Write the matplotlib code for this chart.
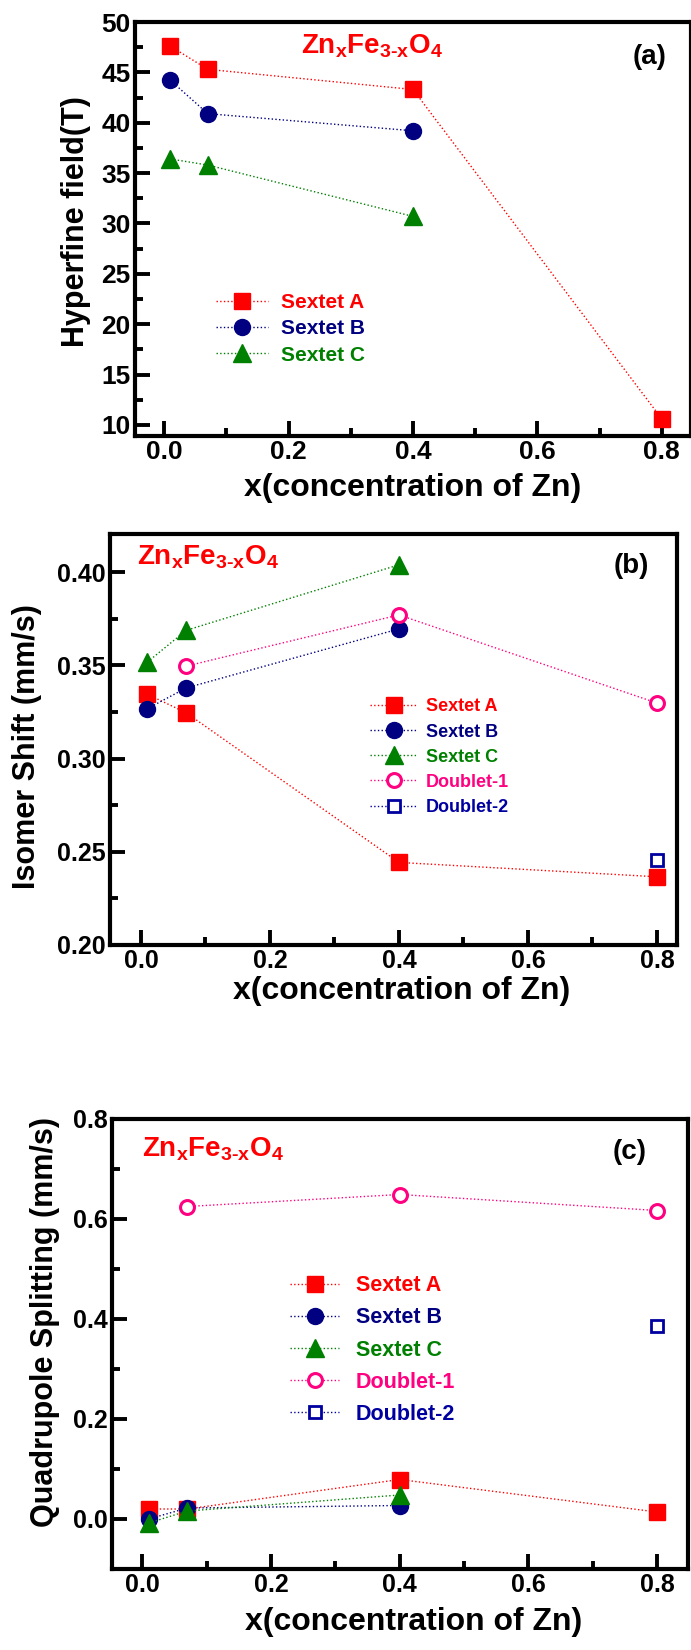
import matplotlib.pyplot as plt
from matplotlib.ticker import MultipleLocator

plt.rcParams['font.family'] = ['Liberation Sans', 'DejaVu Sans']
plt.rcParams['font.weight'] = 'bold'
plt.rcParams['mathtext.fontset'] = 'custom'
plt.rcParams['mathtext.rm'] = 'Liberation Sans:bold'
plt.rcParams['mathtext.bf'] = 'Liberation Sans:bold'
plt.rcParams['mathtext.it'] = 'Liberation Sans:bold'

# Zn content of the samples
x_all = [0.01, 0.07, 0.4, 0.8]
x_sext = [0.01, 0.07, 0.4]
x_d1 = [0.07, 0.4, 0.8]
x_d2 = [0.8]

# (a) hyperfine field, T
hf_a = [47.6, 45.3, 43.3, 10.6]
hf_b = [44.2, 40.9, 39.2]
hf_c = [36.4, 35.8, 30.7]

# (b) isomer shift, mm/s
is_a = [0.3345, 0.3246, 0.2443, 0.2366]
is_b = [0.3268, 0.3379, 0.3696]
is_c = [0.3518, 0.3688, 0.4040]
is_d1 = [0.3496, 0.3771, 0.3298]
is_d2 = [0.2455]

# (c) quadrupole splitting, mm/s
qs_a = [0.020, 0.020, 0.079, 0.014]
qs_b = [0.000, 0.022, 0.027]
qs_c = [-0.008, 0.016, 0.048]
qs_d1 = [0.625, 0.649, 0.617]
qs_d2 = [0.386]

RED = '#ff0000'
NAVY = '#000080'
GREEN = '#008000'
PINK = '#ff0080'
BLUE2 = '#0000a0'

styles = {
    'Sextet A': dict(color=RED, marker='s', ms=11, mfc=RED, mec=RED),
    'Sextet B': dict(color=NAVY, marker='o', ms=11.5, mfc=NAVY, mec=NAVY),
    'Sextet C': dict(color=GREEN, marker='^', ms=12.5, mfc=GREEN, mec=GREEN),
    'Doublet-1': dict(color=PINK, marker='o', ms=10, mfc='white', mec=PINK, mew=2.2),
    'Doublet-2': dict(color=BLUE2, marker='s', ms=8.5, mfc='white', mec=BLUE2, mew=2.0),
}

formula = r'$\mathbf{Zn_{x}Fe_{3\text{-}x}O_{4}}$'

fig = plt.figure(figsize=(6.91, 16.5), dpi=100)


def setup(ax, xlim, ylim, ymaj, ymin, ylabel, ylab_xy, xlab_xy, tsize):
    ax.set_xlim(*xlim)
    ax.set_ylim(*ylim)
    ax.xaxis.set_major_locator(MultipleLocator(0.2))
    ax.xaxis.set_minor_locator(MultipleLocator(0.1))
    ax.yaxis.set_major_locator(MultipleLocator(ymaj))
    ax.yaxis.set_minor_locator(MultipleLocator(ymin))
    for s in ax.spines.values():
        s.set_linewidth(3.0)
    ax.tick_params(which='major', direction='in', length=10.5, width=2.8,
                   labelsize=tsize, pad=3)
    ax.tick_params(which='minor', direction='in', length=5.5, width=2.8)
    ax.tick_params(top=False, right=False, which='both')
    for lab in ax.get_xticklabels() + ax.get_yticklabels():
        lab.set_fontweight('bold')
    ax.set_ylabel(ylabel, fontsize=22, fontweight='bold', va='center')
    ax.set_xlabel('x(concentration of Zn)', fontsize=23, fontweight='bold', va='center')
    ax.yaxis.set_label_coords(*ylab_xy)
    ax.xaxis.set_label_coords(*xlab_xy)


def series(ax, x, y, name):
    st = dict(styles[name])
    ax.plot(x, y, ls=':', lw=1.0, label=name, **st)


# (a)
ax1 = fig.add_axes([135 / 691, 1 - 436 / 1650, 556 / 691, 414 / 1650])
series(ax1, x_all, hf_a, 'Sextet A')
series(ax1, x_sext, hf_b, 'Sextet B')
series(ax1, x_sext, hf_c, 'Sextet C')
setup(ax1, (-0.047, 0.847), (8.9, 50), 5, 2.5, 'Hyperfine field(T)',
      (-0.106, 0.517), (0.50, -0.126), 19)
ax1.text(0.299, 0.923, formula, transform=ax1.transAxes, color=RED,
         fontsize=20, va='baseline', ha='left')
ax1.text(0.926, 0.915, '(a)', transform=ax1.transAxes, fontsize=20,
         fontweight='bold', ha='center', va='center')
ax1.legend(loc='upper left', bbox_to_anchor=(0.146, 0.345), frameon=False,
           handlelength=2.5, handletextpad=0.6, labelspacing=0.35,
           borderpad=0, borderaxespad=0, labelcolor='linecolor',
           prop=dict(weight='bold', size=15))

# (b)
ax2 = fig.add_axes([110 / 691, 1 - 945 / 1650, 567 / 691, 411 / 1650])
series(ax2, x_all, is_a, 'Sextet A')
series(ax2, x_sext, is_b, 'Sextet B')
series(ax2, x_sext, is_c, 'Sextet C')
series(ax2, x_d1, is_d1, 'Doublet-1')
series(ax2, x_d2, is_d2, 'Doublet-2')
setup(ax2, (-0.048, 0.831), (0.2, 0.4205), 0.05, 0.025, 'Isomer Shift (mm/s)',
      (-0.146, 0.484), (0.515, -0.112), 18)
ax2.text(0.048, 0.925, formula, transform=ax2.transAxes, color=RED,
         fontsize=20, va='baseline', ha='left')
ax2.text(0.919, 0.922, '(b)', transform=ax2.transAxes, fontsize=20,
         fontweight='bold', ha='center', va='center')
ax2.legend(loc='upper left', bbox_to_anchor=(0.459, 0.600), frameon=False,
           handlelength=2.6, handletextpad=0.5, labelspacing=0.45,
           borderpad=0, borderaxespad=0, labelcolor='linecolor',
           prop=dict(weight='bold', size=13))

# (c)
ax3 = fig.add_axes([112 / 691, 1 - 1569 / 1650, 576 / 691, 450 / 1650])
series(ax3, x_all, qs_a, 'Sextet A')
series(ax3, x_sext, qs_b, 'Sextet B')
series(ax3, x_sext, qs_c, 'Sextet C')
series(ax3, x_d1, qs_d1, 'Doublet-1')
series(ax3, x_d2, qs_d2, 'Doublet-2')
setup(ax3, (-0.047, 0.848), (-0.1, 0.8), 0.2, 0.1, 'Quadrupole Splitting (mm/s)',
      (-0.116, 0.549), (0.523, -0.118), 18)
ax3.text(0.052, 0.916, formula, transform=ax3.transAxes, color=RED,
         fontsize=20, va='baseline', ha='left')
ax3.text(0.899, 0.927, '(c)', transform=ax3.transAxes, fontsize=20,
         fontweight='bold', ha='center', va='center')
ax3.legend(loc='upper left', bbox_to_anchor=(0.309, 0.653), frameon=False,
           handlelength=2.3, handletextpad=0.75, labelspacing=0.52,
           borderpad=0, borderaxespad=0, labelcolor='linecolor',
           prop=dict(weight='bold', size=15.5))

fig.savefig('out.png', dpi=100)
